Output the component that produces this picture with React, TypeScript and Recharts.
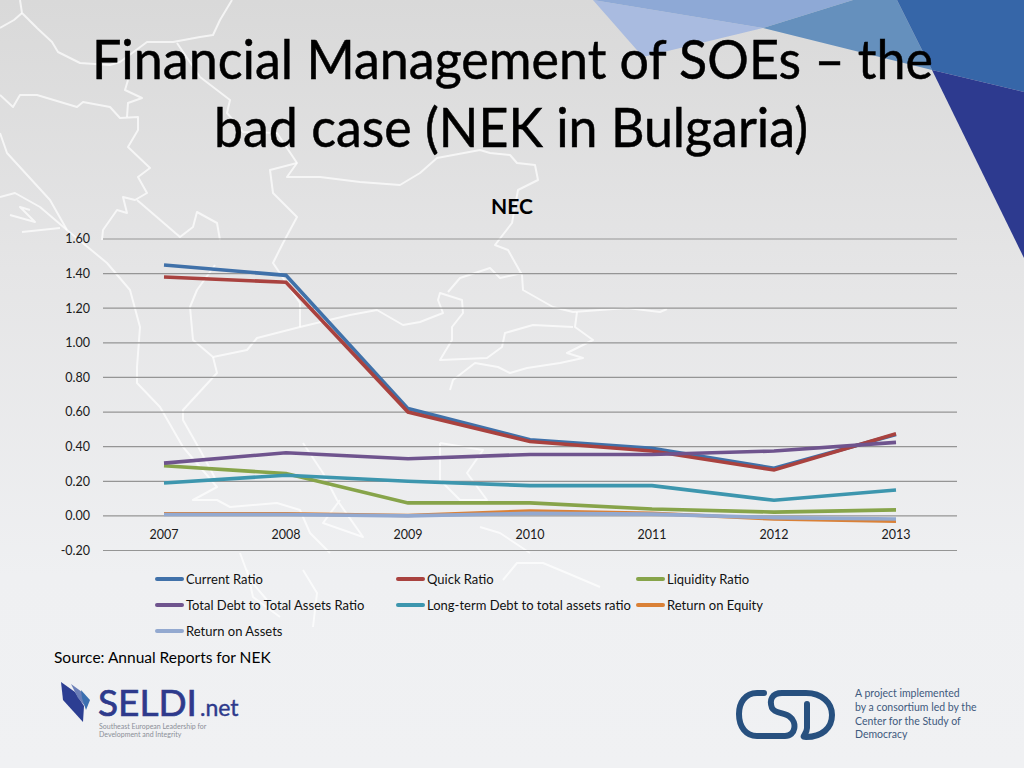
import { ComposedChart, Line, XAxis, YAxis, CartesianGrid } from 'recharts';

const years = ['2007', '2008', '2009', '2010', '2011', '2012', '2013'];
const yTicks = [-0.2, 0, 0.2, 0.4, 0.6, 0.8, 1.0, 1.2, 1.4, 1.6];

const currentRatio = [1.45, 1.39, 0.62, 0.44, 0.39, 0.275, 0.47];
const quickRatio = [1.38, 1.35, 0.6, 0.43, 0.375, 0.265, 0.475];
const liquidityRatio = [0.29, 0.245, 0.075, 0.075, 0.04, 0.022, 0.035];
const totalDebtRatio = [0.305, 0.365, 0.33, 0.355, 0.355, 0.375, 0.425];
const longTermDebtRatio = [0.19, 0.235, 0.2, 0.175, 0.175, 0.09, 0.15];
const returnOnEquity = [0.012, 0.012, 0.002, 0.028, 0.015, -0.018, -0.03];
const returnOnAssets = [0.008, 0.008, 0, 0.015, 0.01, -0.01, -0.018];

const seriesNames = [
  'Current Ratio',
  'Quick Ratio',
  'Liquidity Ratio',
  'Total Debt to Total Assets Ratio',
  'Long-term Debt to total assets ratio',
  'Return on Equity',
  'Return on Assets',
];
const seriesValues = [
  currentRatio,
  quickRatio,
  liquidityRatio,
  totalDebtRatio,
  longTermDebtRatio,
  returnOnEquity,
  returnOnAssets,
];
const seriesColors = ['#4071a9', '#a9423f', '#87a44a', '#6f548e', '#3d96ae', '#da8137', '#93a9d0'];

const chartData = years.map((year, i) => {
  const row: Record<string, string | number> = { year };
  seriesNames.forEach((name, s) => {
    row[name] = seriesValues[s][i];
  });
  return row;
});

const FONT = 'Lato, "Open Sans", sans-serif';

// white map outline behind the slide
const mapLines = [
  'M20 0 L22 13 L37 28 L52 42 L58 52 L80 63 L110 65 L120 62 L147 42 L173 42 L200 37 L213 35 L220 20 L232 0',
  'M0 28 L14 20 L22 13',
  'M177 43 L200 77 L230 100 L227 113 L243 132 L277 133 L297 163 L287 177 L320 177 L360 182 L400 185 L420 173 L437 158 L480 150 L490 153 L510 155 L517 163 L535 165 L538 180 L518 190 L512 223 L495 245 L508 250 L522 275 L523 290 L553 307 L573 312 L627 308 L660 312 L667 309',
  'M577 312 L575 327 L593 340 L567 353 L583 358 L560 363 L527 368 L510 373 L498 367 L475 363 L453 380 L450 390',
  'M573 327 L533 325 L505 333 L502 347 L487 358 L440 360 L452 340 L452 327 L463 313 L462 300 L440 293 L438 300 L443 313 L420 322 L403 325 L377 310 L350 315 L300 327 L257 338 L247 350 L213 357 L193 340 L190 307 L197 290 L215 265',
  'M448 292 L460 278 L490 268 L500 278 L522 273',
  'M213 357 L217 373 L183 410 L183 420 L200 450 L215 478',
  'M0 95 L13 107 L20 95 L37 95 L77 107 L83 102 L110 107 L120 118 L138 117 L138 130 L128 147 L150 168 L138 177 L147 193 L135 200 L123 197 L127 213 L117 210 L103 230 L102 240',
  'M127 117 L128 103 L142 98 L125 90 L128 80',
  'M137 200 L180 237 L193 227 L197 212 L217 223 L220 240',
  'M0 133 L7 153 L50 200 L67 230 L107 263 L130 290 L140 327 L137 367 L137 383 L160 407 L183 447 L217 487 L193 500 L217 500 L230 507 L277 503 L300 510 L310 533 L330 553',
  'M297 163 L270 170 L273 193 L297 217 L283 243 L273 263 L300 303 L300 327',
  'M0 197 L15 193 L40 207 L67 230 M10 215 L35 222 L20 207 L30 210 M22 232 L60 228',
  'M240 553 L250 580 L267 600 M247 570 L253 597 L280 617 M303 570 L317 593 L313 627',
  'M303 443 L323 473 L337 500 L363 537 L323 523 L340 500',
  'M440 443 L483 450 L467 473 L487 500 L460 500 L440 480 L440 443',
  'M480 527 L500 533 L530 553 M503 580 L517 563 L543 563 L567 573 L600 587',
];

const triangles = [
  { points: '593,0 763,28 643,57', fill: '#a9bbe0' },
  { points: '593,0 853,0 763,28', fill: '#8ea9d6' },
  { points: '853,0 897,0 932,70 763,28', fill: '#6590bd' },
  { points: '897,0 1024,0 1024,92 932,70', fill: '#3666a8' },
  { points: '932,70 1024,92 1024,258', fill: '#2d3a8f' },
];

const YearTick = ({ x, y, payload }: any) => (
  <text x={x} y={y - 12} textAnchor="middle" fontFamily={FONT} fontSize={12.5} fill="#1a1a1a">
    {payload.value}
  </text>
);

function Backdrop() {
  return (
    <svg width={1024} height={768} style={{ position: 'absolute', left: 0, top: 0 }}>
      <defs>
        <linearGradient id="bg" x1="0" y1="0" x2="0" y2="1">
          <stop offset="0" stopColor="#d9d9d9" />
          <stop offset="0.35" stopColor="#e5e5e6" />
          <stop offset="0.75" stopColor="#eff0f2" />
          <stop offset="1" stopColor="#f0f1f3" />
        </linearGradient>
      </defs>
      <rect width={1024} height={768} fill="url(#bg)" />
      {mapLines.map((d, i) => (
        <path key={i} d={d} fill="none" stroke="#ffffff" strokeWidth={2} strokeLinejoin="round" opacity={0.7} />
      ))}
      {triangles.map((t, i) => (
        <polygon key={i} points={t.points} fill={t.fill} />
      ))}

      {/* SELDI logo */}
      <polygon points="61,682 75,692 84,706 83,722 63,700" fill="#2c3e92" />
      <polygon points="71,684 82,692 85,706 78,698" fill="#6b7fb8" />
      <polygon points="81,690 90,700 86,710 82,698" fill="#3b6fb0" />
      <text x={98} y={716} fontFamily={FONT} fontSize={37} fill="#2e3a8c" stroke="#2e3a8c" strokeWidth={0.7}>SELDI</text>
      <text x={200} y={716} fontFamily={FONT} fontSize={23} fill="#2e3a8c" stroke="#2e3a8c" strokeWidth={0.4}>.net</text>
      <text x={99} y={729} fontFamily={FONT} fontSize={7} fill="#8b8f98">Southeast European Leadership for</text>
      <text x={99} y={737} fontFamily={FONT} fontSize={7} fill="#8b8f98">Development and Integrity</text>

      {/* CSD logo */}
      <path
        d="M764 693 H757 C745 693 739 703 739 714 C739 727 746 736 757 736 H785 C796 736 797 722 790 717 C785 712 775 714 772 708 C769 700 772 693 782 693 H806 C822 693 832 703 832 715 C832 728 822 737 806 737 C800 737 807 735 807 728 V704"
        fill="none"
        stroke="#27507f"
        strokeWidth={6}
        strokeLinecap="round"
      />
      <text x={855} y={697} fontFamily={FONT} fontSize={10.5} fill="#3f5a7e">A project implemented</text>
      <text x={855} y={711} fontFamily={FONT} fontSize={10.5} fill="#3f5a7e">by a consortium led by the</text>
      <text x={855} y={724.5} fontFamily={FONT} fontSize={10.5} fill="#3f5a7e">Center for the Study of</text>
      <text x={855} y={738} fontFamily={FONT} fontSize={10.5} fill="#3f5a7e">Democracy</text>

      {/* slide text */}
      <text x={92} y={79} fontFamily={FONT} fontSize={54} fill="#000" stroke="#000" strokeWidth={0.5} textLength={841} lengthAdjust="spacingAndGlyphs">
        Financial Management of SOEs – the
      </text>
      <text x={214} y={147} fontFamily={FONT} fontSize={54} fill="#000" stroke="#000" strokeWidth={0.5} textLength={594} lengthAdjust="spacingAndGlyphs">
        bad case (NEK in Bulgaria)
      </text>
      <text x={512} y={214} textAnchor="middle" fontFamily={FONT} fontSize={21} fontWeight={700} fill="#000">NEC</text>
      <text x={54} y={663} fontFamily={FONT} fontSize={15.5} fill="#000">Source: Annual Reports for NEK</text>
    </svg>
  );
}

function LegendBlock() {
  const colX = [155, 396, 636];
  const rowY = [579, 605, 631];
  return (
    <>
      {seriesNames.map((name, i) => (
        <div
          key={name}
          style={{
            position: 'absolute',
            left: colX[i % 3],
            top: rowY[Math.floor(i / 3)] - 10,
            height: 20,
            display: 'flex',
            alignItems: 'center',
            whiteSpace: 'nowrap',
            fontFamily: FONT,
            fontSize: 13,
            color: '#111',
          }}
        >
          <span style={{ width: 29, height: 3.5, marginRight: 2, background: seriesColors[i], borderRadius: 2 }} />
          {name}
        </div>
      ))}
    </>
  );
}

export default function App() {
  return (
    <div style={{ position: 'fixed', left: 0, top: 0, width: 1024, height: 768, overflow: 'hidden' }}>
      <Backdrop />
      <div style={{ position: 'absolute', left: 0, top: 0 }}>
        <ComposedChart
          width={1024}
          height={768}
          data={chartData}
          margin={{ top: 239, right: 67, bottom: 187.5, left: 43 }}
        >
          <CartesianGrid vertical={false} stroke="#959595" strokeWidth={1.2} />
          <XAxis
            dataKey="year"
            height={30}
            padding={{ left: 61, right: 61 }}
            axisLine={false}
            tickLine={false}
            tickSize={0}
            tickMargin={0}
            interval={0}
            tick={<YearTick />}
          />
          <YAxis
            width={60}
            domain={[-0.2, 1.6]}
            ticks={yTicks}
            interval={0}
            axisLine={false}
            tickLine={false}
            tickSize={0}
            tickMargin={13}
            tickFormatter={(v: number) => v.toFixed(2)}
            tick={{ fontFamily: FONT, fontSize: 12.5, fill: '#1a1a1a' }}
          />
          {seriesNames.map((name, i) => (
            <Line
              key={name}
              type="linear"
              dataKey={name}
              stroke={seriesColors[i]}
              strokeWidth={3.6}
              dot={false}
              isAnimationActive={false}
            />
          ))}
        </ComposedChart>
      </div>
      <LegendBlock />
    </div>
  );
}
